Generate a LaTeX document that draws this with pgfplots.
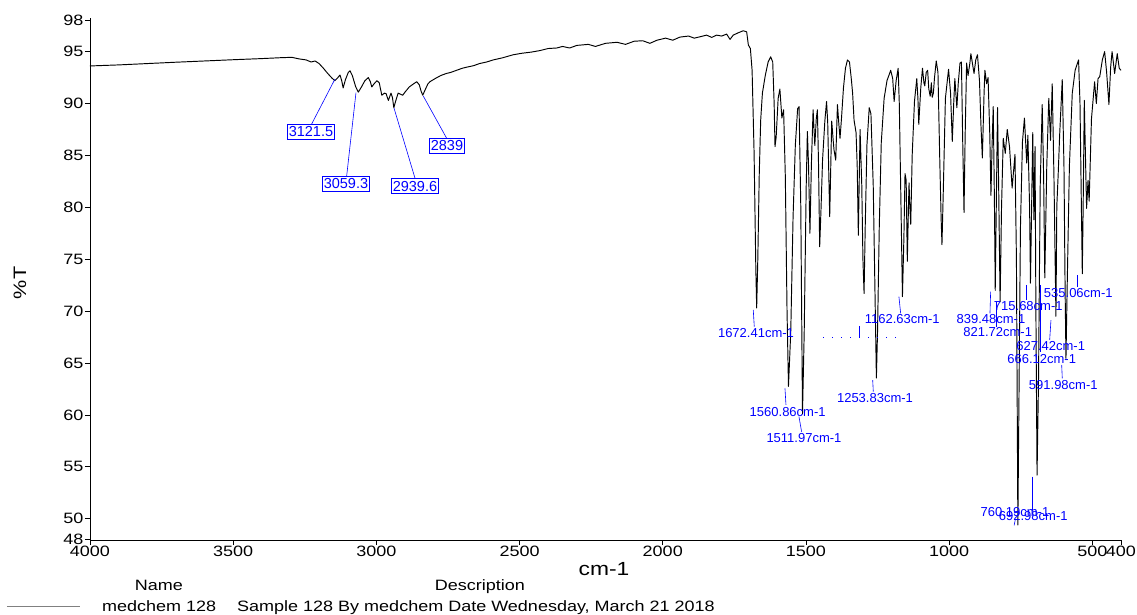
\documentclass[border=0pt]{standalone}
\usepackage{fontspec}
\setmainfont{Liberation Sans}
\newfontfamily\widefont{Liberation Sans}[FakeStretch=1.2]
\usepackage{pgfplots}
\pgfplotsset{compat=1.18}
\usepackage{pgfplotstable}

\pgfplotstableread{
wn T
4000 93.62
3900 93.72
3800 93.85
3700 93.98
3600 94.10
3500 94.22
3400 94.33
3330 94.42
3295 94.45
3270 94.30
3245 94.20
3228 94.00
3214 94.10
3200 93.85
3185 93.40
3170 92.90
3155 92.45
3145 92.20
3136 92.45
3127 92.75
3121 92.20
3116 91.50
3108 92.30
3098 93.00
3092 93.15
3084 92.70
3072 91.60
3063 91.10
3052 91.60
3040 92.20
3028 92.50
3021 92.10
3016 91.60
3008 91.90
2998 92.20
2990 92.00
2981 90.80
2972 91.00
2966 90.95
2958 90.30
2949 91.00
2944 90.60
2939 89.60
2933 90.20
2924 91.00
2916 90.90
2908 90.80
2900 91.10
2885 91.60
2870 91.90
2859 92.10
2850 91.80
2844 91.20
2838 90.80
2830 91.30
2820 91.90
2813 92.10
2795 92.40
2775 92.70
2755 92.90
2740 93.00
2720 93.20
2700 93.40
2685 93.50
2660 93.65
2640 93.85
2615 94.00
2592 94.20
2560 94.40
2522 94.70
2490 94.85
2460 94.95
2429 95.10
2400 95.30
2370 95.35
2350 95.50
2325 95.35
2300 95.60
2260 95.70
2235 95.50
2200 95.80
2160 95.90
2130 95.70
2100 96.00
2070 96.05
2045 95.80
2020 96.10
1990 96.30
1965 96.10
1940 96.40
1910 96.50
1890 96.30
1870 96.43
1847 96.59
1829 96.37
1812 96.59
1794 96.50
1777 96.69
1765 96.18
1754 96.59
1736 96.82
1719 97.01
1707 96.91
1701 95.63
1694 95.30
1688 93.20
1681 85.20
1675 74.10
1672 70.30
1668 75.10
1663 83.20
1658 88.40
1652 91.00
1642 92.70
1632 94.00
1623 94.50
1616 94.00
1611 90.00
1608 85.85
1604 86.75
1597 90.50
1591 91.40
1584 88.60
1578 89.40
1572 83.00
1566 70.00
1561 62.75
1553 68.00
1545 79.00
1537 86.00
1529 89.50
1524 89.70
1518 80.10
1512 60.10
1506 68.00
1499 82.10
1495 87.30
1491 84.10
1486 77.50
1481 84.10
1475 89.40
1469 85.95
1464 88.50
1460 89.40
1456 84.10
1452 76.20
1447 80.10
1442 84.55
1434 88.30
1428 90.20
1424 88.20
1417 79.10
1410 88.30
1405 86.50
1402 85.55
1396 84.55
1390 89.90
1385 88.00
1381 86.65
1376 88.50
1369 91.50
1362 93.40
1355 94.20
1348 94.00
1342 92.50
1337 91.00
1332 88.40
1325 87.20
1321 84.00
1317 77.30
1311 87.50
1305 82.10
1301 75.00
1297 71.70
1293 78.10
1287 86.00
1279 89.60
1273 89.00
1265 82.10
1259 72.00
1254 63.55
1250 68.00
1244 78.00
1237 86.20
1227 90.50
1217 92.20
1204 93.20
1197 92.40
1192 90.20
1185 92.20
1178 93.40
1174 90.00
1168 80.00
1163 71.40
1158 77.00
1154 83.25
1150 82.60
1146 74.80
1142 80.00
1140 82.35
1137 80.00
1134 78.35
1129 85.00
1121 90.20
1113 92.40
1109 90.50
1106 88.00
1099 91.50
1093 93.40
1088 92.00
1085 91.70
1080 93.00
1075 93.20
1071 91.40
1066 90.70
1062 92.00
1059 90.60
1055 91.00
1051 92.50
1045 94.10
1039 93.00
1033 85.00
1028 79.00
1025 76.40
1020 82.00
1013 90.50
1002 93.30
995 91.00
989 86.35
984 90.00
980 92.40
973 89.60
968 92.00
962 93.90
957 94.00
953 87.00
948 79.50
944 87.00
939 93.90
934 92.70
928 93.80
924 94.80
913 92.90
907 94.20
901 94.70
894 92.20
889 88.00
884 84.75
878 91.00
875 93.20
869 91.90
864 92.50
858 87.00
854 81.15
850 86.00
846 89.70
842 81.00
839 72.00
834 83.00
831 89.60
827 82.00
822 70.90
817 80.00
811 86.65
804 85.20
797 87.50
789 85.80
780 81.85
770 85.10
765 75.00
760 49.40
756 62.00
751 78.00
744 86.30
737 88.60
729 84.25
725 86.95
719 80.00
716 72.70
708 87.20
704 78.80
700 85.85
697 70.00
693 54.20
688 63.00
682 82.00
675 89.90
670 83.00
666 73.20
659 84.00
652 90.50
646 86.45
640 91.90
634 83.00
627 69.50
624 80.10
619 83.30
614 87.00
605 92.30
599 84.00
595 72.00
592 65.45
588 72.00
580 84.00
570 91.00
560 93.20
548 94.20
543 90.00
535 73.60
532 80.00
528 90.30
524 85.00
520 79.90
515 82.60
511 80.60
503 88.50
492 92.10
486 90.00
480 92.40
474 92.60
465 94.20
457 95.00
450 93.00
442 89.90
436 93.50
431 95.00
422 92.90
413 94.80
406 93.40
400 93.20
}\spectrum

\tikzset{
  bx/.style={draw=blue, line width=0.6pt, text=blue, font=\fontsize{14.5}{14.5}\selectfont,
    inner xsep=1.5pt, inner ysep=0pt, minimum height=15.3pt},
  pk/.style={text=blue, font=\fontsize{13}{13}\selectfont, inner sep=0pt},
  ld/.style={blue, line width=0.6pt},
}

\begin{document}
\begin{tikzpicture}
\path[use as bounding box] (-90pt,-74pt) rectangle (1047pt,540pt);
\begin{axis}[
  at={(0pt,0pt)}, anchor=south west,
  scale only axis, width=1031pt, height=522pt,
  xmin=400, xmax=4000, x dir=reverse,
  ymin=47.95, ymax=98.24,
  axis x line*=bottom, axis y line*=left,
  axis line style={-, line width=0.8pt},
  xtick={400,500,1000,1500,2000,2500,3000,3500,4000},
  ytick={48,50,55,60,65,70,75,80,85,90,95,98},
  tick align=outside, major tick length=5pt,
  tick style={black, line width=0.8pt},
  ticklabel style={font=\widefont\fontsize{15}{15}\selectfont},
  /pgf/number format/assume math mode=true,
  /pgf/number format/1000 sep={},
  xticklabel style={inner sep=1pt},
  yticklabel style={inner sep=1.5pt},
  clip=false,
]
\addplot[black, line width=0.95pt, line join=round] table[x=wn,y=T] {\spectrum};

% boxed labels
\draw[ld] (axis cs:3144.5,92.36) -- (axis cs:3225.9,88.03);
\node[bx] at (axis cs:3228.3,87.26) {3121.5};
\draw[ld] (axis cs:3071.2,91.04) -- (axis cs:3103.7,83.02);
\node[bx] at (axis cs:3106.1,82.25) {3059.3};
\draw[ld] (axis cs:2938.5,89.57) -- (axis cs:2865.2,82.82);
\node[bx] at (axis cs:2865.2,82.05) {2939.6};
\draw[ld] (axis cs:2836.2,90.72) -- (axis cs:2754.5,86.65);
\node[bx] at (axis cs:2753.4,85.91) {2839};

% peak labels
\draw[ld] (axis cs:1683.9,70.11) -- (axis cs:1680.4,68.5);
\node[pk] at (axis cs:1674.5,67.92) {1672.41cm-1};
\draw[ld] (axis cs:1573.2,62.56) -- (axis cs:1569.7,60.96);
\node[pk] at (axis cs:1563.8,60.31) {1560.86cm-1};
\draw[ld] (axis cs:1524.3,59.83) -- (axis cs:1515.1,58.38);
\node[pk] at (axis cs:1506.9,57.75) {1511.97cm-1};
\draw[ld] (axis cs:1266.9,63.36) -- (axis cs:1264.8,62.24);
\node[pk] at (axis cs:1258.9,61.66) {1253.83cm-1};
\draw[ld] (axis cs:1175.3,71.39) -- (axis cs:1169.3,69.79);
\node[pk] at (axis cs:1163.6,69.21) {1162.63cm-1};
\draw[ld] (axis cs:855.0,71.87) -- (axis cs:857.4,69.79);
\node[pk] at (axis cs:853.9,69.21) {839.48cm-1};
\draw[ld] (axis cs:836.4,70.91) -- (axis cs:836.4,68.5);
\node[pk] at (axis cs:830.5,68.02) {821.72cm-1};
\draw[ld] (axis cs:729.2,72.52) -- (axis cs:729.2,71.07);
\node[pk] at (axis cs:723.6,70.49) {715.68cm-1};
\draw[ld] (axis cs:551.1,73.48) -- (axis cs:551.1,72.35);
\node[pk] at (axis cs:549,71.72) {535.06cm-1};
\draw[ld] (axis cs:644.4,69.14) -- (axis cs:648.9,67.22);
\node[pk] at (axis cs:645.4,66.64) {627.42cm-1};
\draw[ld] (axis cs:682.8,72.52) -- (axis cs:682.8,66.09);
\node[pk] at (axis cs:676.8,65.39) {666.12cm-1};
\draw[ld] (axis cs:607.0,64.81) -- (axis cs:604.9,63.53);
\node[pk] at (axis cs:601.4,62.88) {591.98cm-1};
\draw[ld] (axis cs:773,49.35) -- (axis cs:769,49.9);
\node[pk] at (axis cs:770.1,50.68) {760.19cm-1};
\draw[ld] (axis cs:709.7,54.05) -- (axis cs:709.7,50.84);
\node[pk] at (axis cs:706.2,50.26) {692.98cm-1};

% threshold marker
\draw[blue, line width=1pt, dash pattern=on 1pt off 8pt] (axis cs:1439.5,67.44) -- (axis cs:1183.1,67.44);
\draw[ld] (axis cs:1313.7,68.57) -- (axis cs:1313.7,67.44);
\end{axis}

\node[font=\widefont\fontsize{19}{19}\selectfont, anchor=base] at (514pt,-35pt) {cm-1};
\node[font=\widefont\fontsize{18}{18}\selectfont, rotate=90] at (-70pt,257pt) {\%T};
\node[font=\widefont\fontsize{15}{15}\selectfont, anchor=base] at (69pt,-50pt) {Name};
\node[font=\widefont\fontsize{15}{15}\selectfont, anchor=base] at (390pt,-50pt) {Description};
\draw[gray, line width=1.5pt] (-83pt,-66.7pt) -- (-10pt,-66.7pt);
\node[font=\widefont\fontsize{15}{15}\selectfont, anchor=base west, inner sep=0pt] at (12pt,-71.5pt) {medchem 128};
\node[font=\widefont\fontsize{15}{15}\selectfont, anchor=base west, inner sep=0pt] at (147pt,-71.5pt) {Sample 128 By medchem Date Wednesday, March 21 2018};
\end{tikzpicture}
\end{document}
